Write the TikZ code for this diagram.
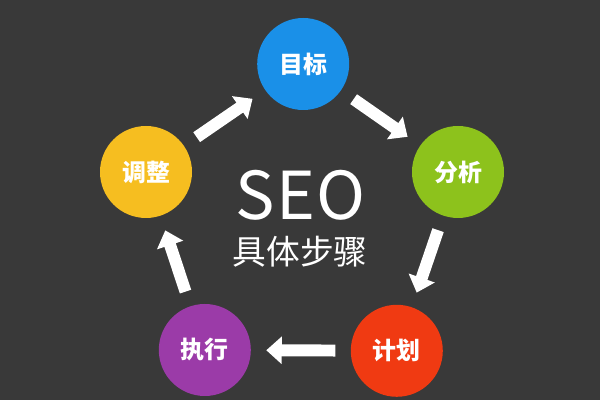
\documentclass[tikz,border=0pt]{standalone}
\usepackage{fontspec}
\newfontfamily\cjk{Noto Sans CJK SC}
\usetikzlibrary{arrows.meta}
\definecolor{bggray}{HTML}{393939}
\definecolor{seoblue}{HTML}{1A90E8}
\definecolor{seogreen}{HTML}{8DC21C}
\definecolor{seored}{HTML}{F03A12}
\definecolor{seopurple}{HTML}{9B3BA8}
\definecolor{seoyellow}{HTML}{F6BE20}
\begin{document}
\begin{tikzpicture}
	\tikzstyle{stage}=[circle,draw=none,minimum size=2.3cm,inner sep=0pt,text=white,font=\cjk\bfseries\fontsize{17}{19}\selectfont]
	\tikzstyle{flow}=[color=white, line width=8.5pt, -{Triangle[width=19pt,length=11pt,fill=white]}, shorten <=0.38cm, shorten >=0.38cm]
	\fill[bggray] (0,0) rectangle (15,10);
	\begin{scope}
		\node [stage,fill=seoblue] (mubiao) at (7.58,8.4) {目标};
		\node [stage,fill=seogreen] (fenxi) at (11.45,5.7) {分析};
		\node [stage,fill=seored] (jihua) at (9.92,1.23) {计划};
		\node [stage,fill=seopurple] (zhixing) at (5.12,1.25) {执行};
		\node [stage,fill=seoyellow] (tiaozheng) at (3.65,5.7) {调整};
		\node [text=white,font=\cjk\fontsize{47}{50}\selectfont] (seo) at (7.52,5.12) {S\kern1pt E\kern1pt O};
		\node [text=white,font=\cjk\fontsize{24}{28}\selectfont] (buzhou) at (7.5,3.7) {具体步骤};
		\path[flow] (tiaozheng) edge (mubiao);
		\path[flow] (mubiao) edge (fenxi);
		\path[flow] (fenxi) edge (jihua);
		\path[flow] (jihua) edge (zhixing);
		\path[flow] (zhixing) edge (tiaozheng);
	\end{scope}
\end{tikzpicture}
\end{document}
